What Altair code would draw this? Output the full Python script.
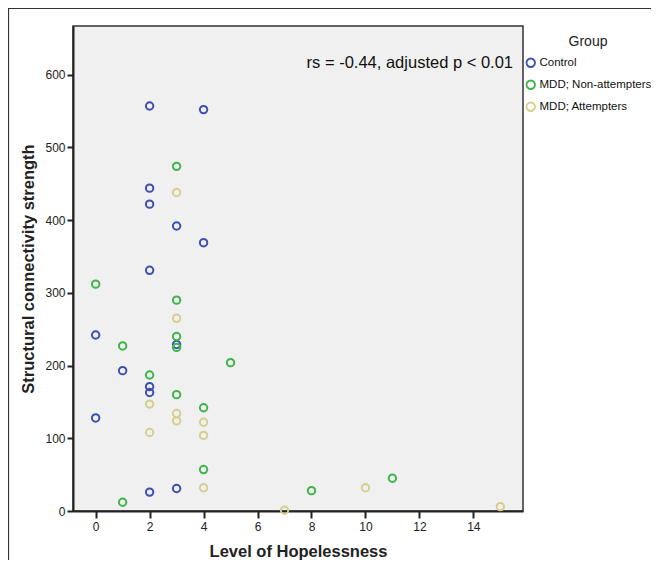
import altair as alt
import pandas as pd

# ---- data ----
control_x = [2, 4, 2, 2, 3, 4, 2, 0, 1, 2, 2, 3, 0, 2, 3]
control_y = [557, 552, 444, 422, 392, 369, 331, 242, 193, 171, 163, 229, 128, 26, 31]

nonatt_x = [3, 0, 3, 1, 3, 3, 5, 2, 3, 4, 4, 1, 8, 11]
nonatt_y = [474, 312, 290, 227, 240, 225, 204, 187, 160, 142, 57, 12, 28, 45]

att_x = [3, 3, 2, 3, 3, 4, 2, 4, 4, 7, 10, 15]
att_y = [438, 265, 147, 134, 124, 122, 108, 104, 32, 1, 32, 6]

groups = ["Control", "MDD; Non-attempters", "MDD; Attempters"]
colors = ["#3E4FB1", "#3DB54A", "#D6CE8E"]

x_ticks = [0, 2, 4, 6, 8, 10, 12, 14]
y_ticks = [0, 100, 200, 300, 400, 500, 600]

annotation = "rs = -0.44, adjusted p < 0.01"
x_title = "Level of Hopelessness"
y_title = "Structural connectivity strength"

rows = []
for g, xs, ys in zip(groups, [control_x, nonatt_x, att_x], [control_y, nonatt_y, att_y]):
    for a, b in zip(xs, ys):
        rows.append({"hopelessness": a, "strength": b, "Group": g})
df = pd.DataFrame(rows)

FONT = "Liberation Sans"
W, H = 450, 485

points = alt.Chart(df).mark_point(
    filled=False, shape="circle", size=55, strokeWidth=2, opacity=1
).encode(
    x=alt.X("hopelessness:Q",
            scale=alt.Scale(domain=[-0.84, 15.84], nice=False, zero=False),
            axis=alt.Axis(values=x_ticks, title=x_title, grid=False,
                          tickSize=7, tickWidth=2, tickColor="#222",
                          domainColor="#222", domainWidth=2,
                          labelFontSize=12, labelColor="#222", labelPadding=3,
                          labelFont=FONT, titleFont=FONT, titleFontSize=16.5,
                          titleFontWeight="bold", titleColor="#222",
                          titleBaseline="alphabetic", titleY=45)),
    y=alt.Y("strength:Q",
            scale=alt.Scale(domain=[0, 667], nice=False),
            axis=alt.Axis(values=y_ticks, title=y_title, grid=False,
                          tickSize=6, tickWidth=2, tickColor="#222",
                          domainColor="#222", domainWidth=2,
                          labelFontSize=12, labelColor="#222", labelPadding=2,
                          labelFont=FONT, titleFont=FONT, titleFontSize=16.5,
                          titleFontWeight="bold", titleColor="#222",
                          titleBaseline="alphabetic", titleX=-40)),
    color=alt.Color("Group:N",
                    scale=alt.Scale(domain=groups, range=colors),
                    legend=alt.Legend(orient="none", legendX=452, legendY=9,
                                      title="Group", titleFontSize=14,
                                      titleFontWeight="normal", titleAnchor="middle",
                                      titleFont=FONT, titleColor="#222",
                                      titlePadding=8, padding=0,
                                      labelFont=FONT, labelFontSize=11.5,
                                      labelColor="#111", labelOffset=3,
                                      symbolType="circle", symbolSize=72,
                                      symbolStrokeWidth=1.8, rowPadding=5)),
)

note = alt.Chart(pd.DataFrame({"t": [annotation]})).mark_text(
    align="right", baseline="middle", font=FONT, fontSize=16.5, color="#111"
).encode(x=alt.value(440), y=alt.value(37), text="t:N")

top_line = alt.Chart(pd.DataFrame({"a": [0]})).mark_rule(
    color="#333", strokeWidth=1.2
).encode(x=alt.value(-65), x2=alt.value(578), y=alt.value(-17.5))

left_line = alt.Chart(pd.DataFrame({"a": [0]})).mark_rule(
    color="#333", strokeWidth=1.2
).encode(x=alt.value(-64.5), y=alt.value(-18), y2=alt.value(534))

chart = alt.layer(points, note, top_line, left_line).properties(
    width=W, height=H,
    padding={"left": 65, "top": 18, "right": 128, "bottom": 49},
    autosize=alt.AutoSizeParams(type="none"),
    background="white",
).configure_view(
    fill="#F0F0F0", stroke="#333", strokeWidth=1.5
)

chart.save("out.html", embed_options={"renderer": "svg", "actions": False})
